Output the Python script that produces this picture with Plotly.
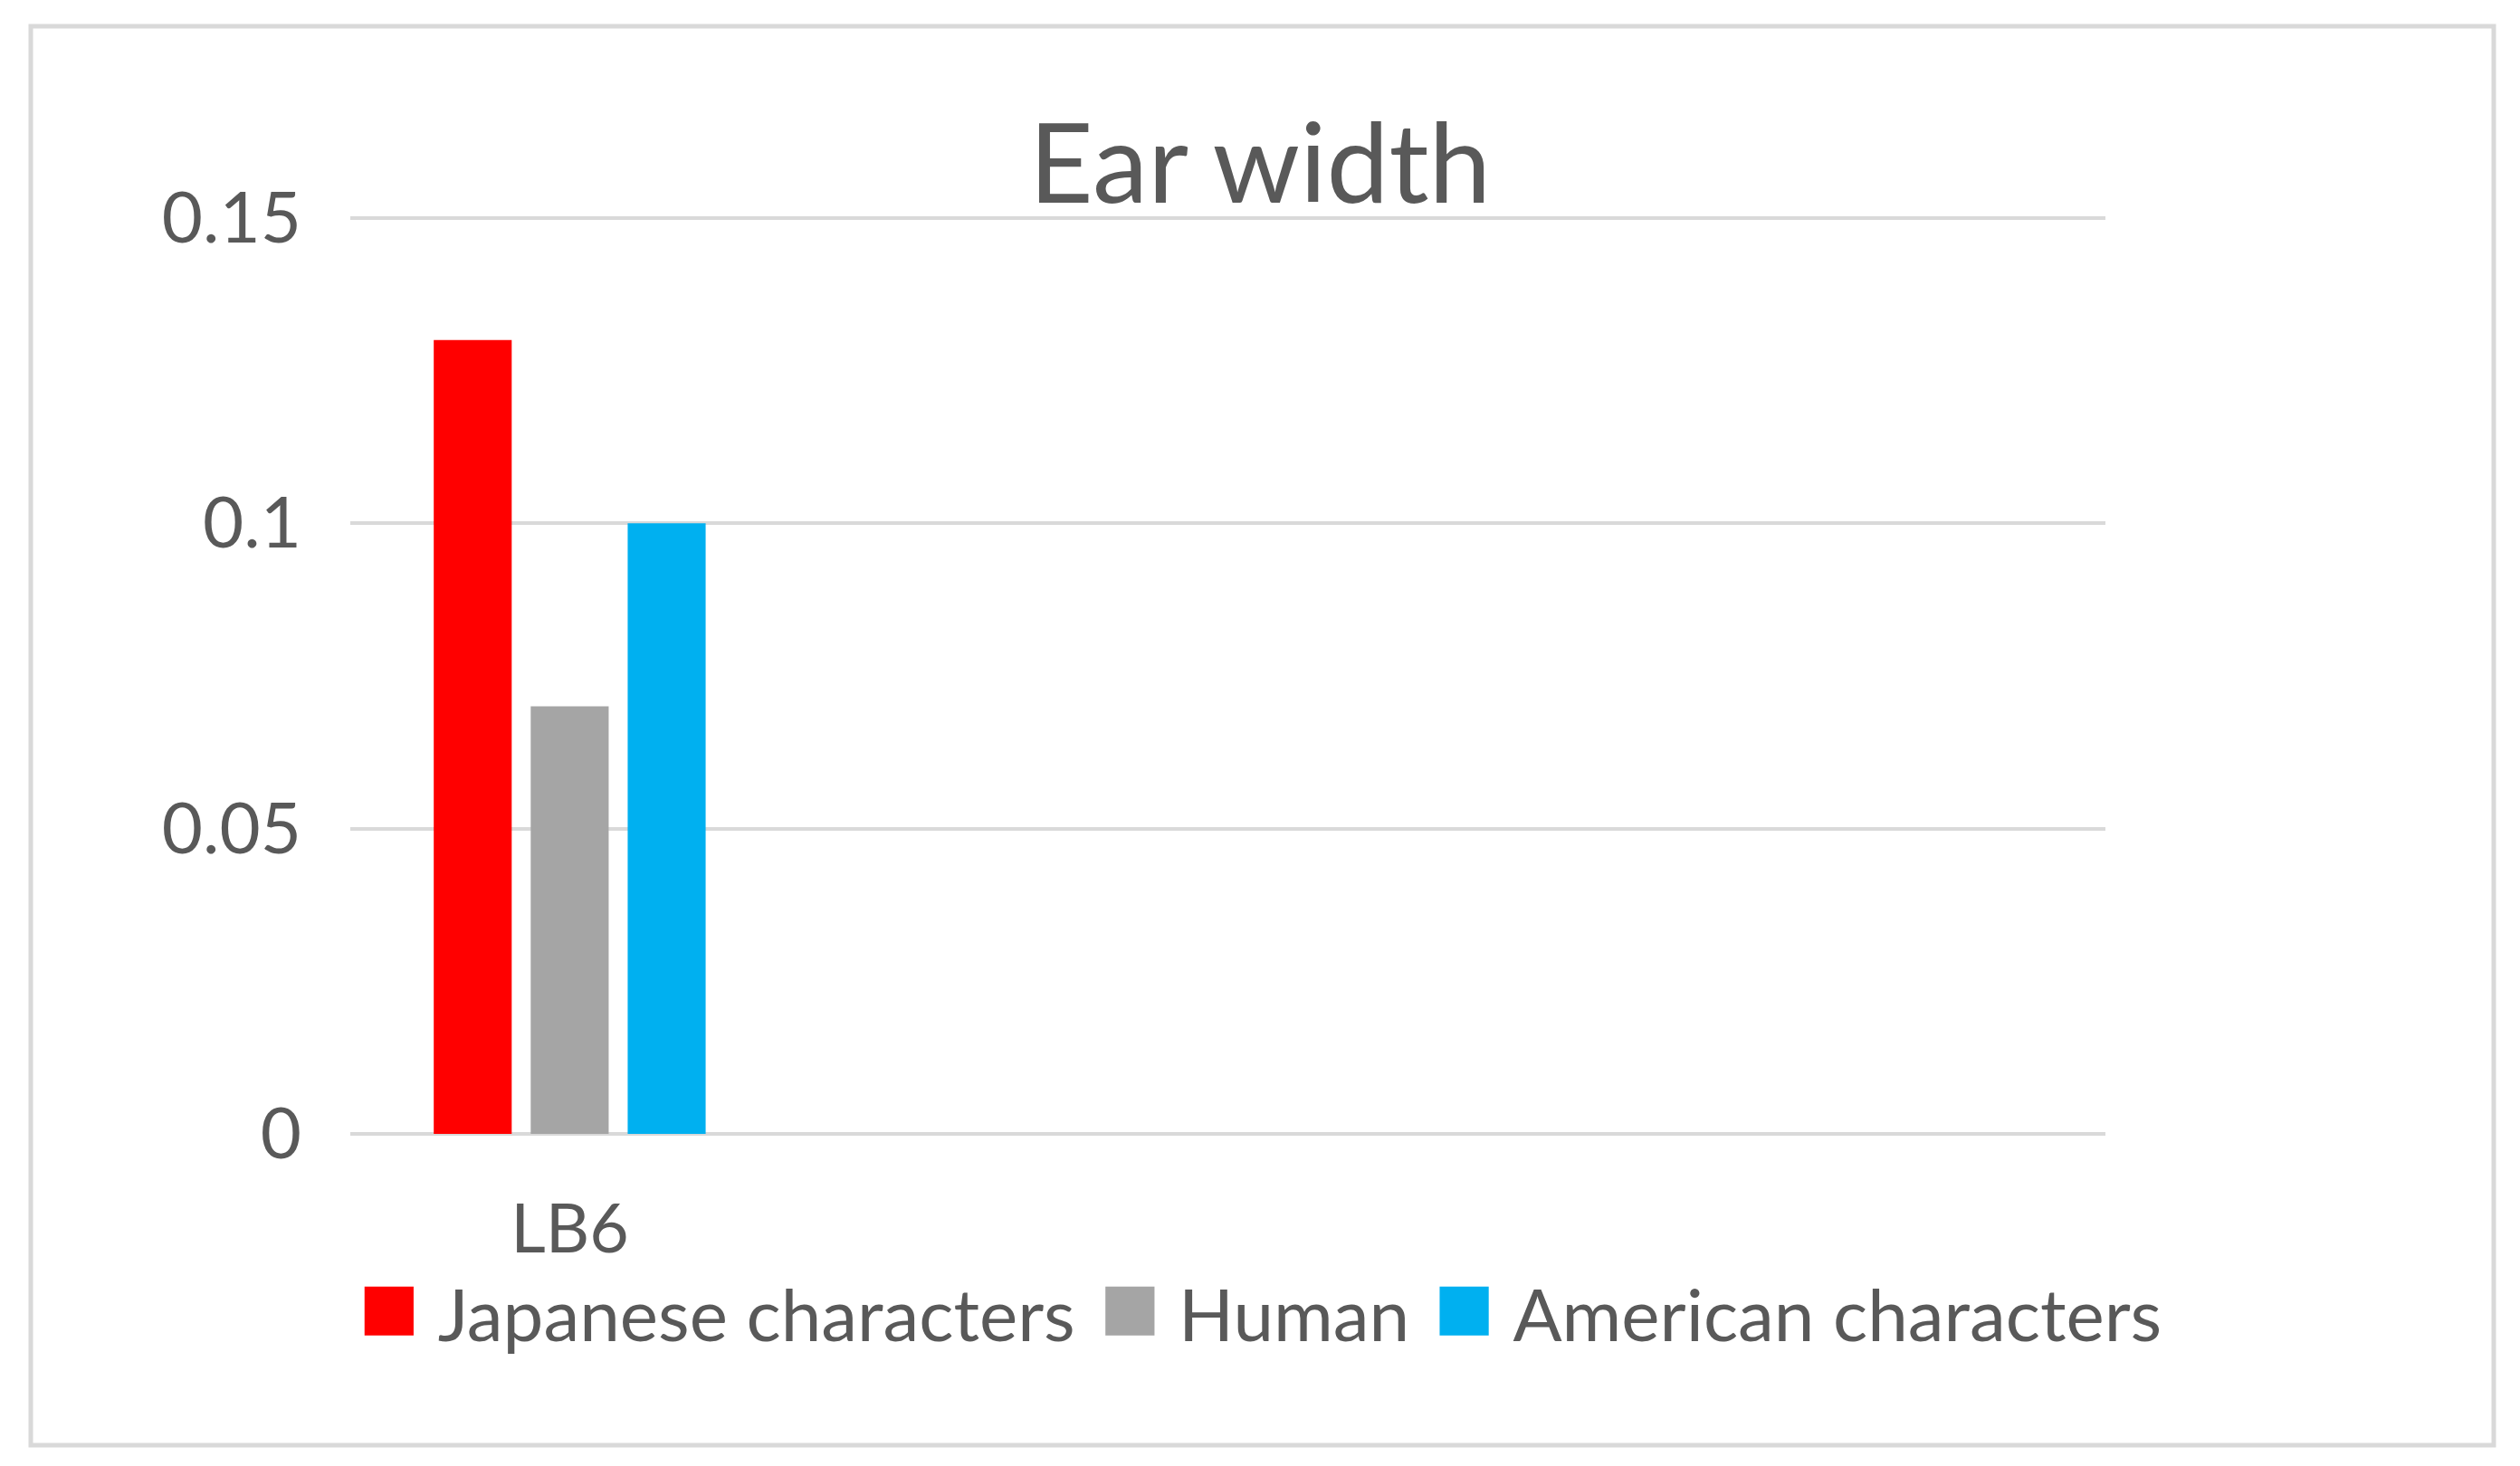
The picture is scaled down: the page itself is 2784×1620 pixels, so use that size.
import plotly.graph_objects as go

# ---- data ----
categories = ["LB6", " ", "  ", "   "]
series_names = ["Japanese characters", "Human", "American characters"]
series_values = [[0.13], [0.07], [0.10]]
series_colors = ["#FF0000", "#A5A5A5", "#00B0F0"]
y_ticks = [0, 0.05, 0.1, 0.15]
y_tick_labels = ["0", "0.05", "0.1", "0.15"]
title_text = "Ear width"

FONT = "Lato, 'Open Sans', sans-serif"
TXT = "#595959"
GRID = "#D9D9D9"

W, H = 2784, 1620
OFF = 8  # page body margin offset
Y_TOP = 0.1504
L = 387 - OFF
T = 241 - OFF - 3
R = W - (2326 - OFF)
B = H - (1253 - OFF)
pw = W - L - R
ph = H - T - B


def px_x(v):
    return (v - OFF - L) / pw


def px_y(v):
    return (H - B - (v - OFF)) / ph


fig = go.Figure()
for name, vals, col in zip(series_names, series_values, series_colors):
    fig.add_trace(go.Bar(x=categories[:len(vals)], y=vals, name=name,
                         marker=dict(color=col, line=dict(width=0))))

# legend built as one centered annotation (large swatches like the original)
parts = []
for name, col in zip(series_names, series_colors):
    parts.append(f"<span style='color:{col};font-size:112px'>■</span>\u2005{name}")
legend_text = "\u2004".join(parts)
fig.add_annotation(text=legend_text, xref="paper", yref="paper",
                   x=px_x(1392), y=px_y(1438),
                   xanchor="center", yanchor="middle", showarrow=False,
                   font=dict(family=FONT, size=80, color=TXT))

# outer chart border
fig.add_shape(type="rect", xref="paper", yref="paper",
              x0=px_x(34), x1=px_x(2755),
              y0=px_y(1597), y1=px_y(29),
              line=dict(color=GRID, width=5), fillcolor="rgba(0,0,0,0)", layer="below")

fig.update_layout(
    width=W, height=H,
    margin=dict(l=L, r=R, t=T, b=B, autoexpand=False),
    paper_bgcolor="white", plot_bgcolor="white",
    showlegend=False,
    barmode="group", bargap=0.337, bargroupgap=0.196,
    title=dict(text=title_text, x=(1392 - OFF) / W, xref="container", xanchor="center",
               y=1 - (184 - OFF - 3) / H, yref="container", yanchor="middle",
               font=dict(family=FONT, size=123, color=TXT)),
    font=dict(family=FONT, color=TXT),
    xaxis=dict(type="category", categoryorder="array", categoryarray=categories,
               range=[-0.5, len(categories) - 0.5],
               showgrid=False, showline=False, zeroline=False, ticks="",
               tickfont=dict(family=FONT, size=75, color=TXT),
               ticklabelstandoff=55, fixedrange=True),
    yaxis=dict(range=[0, Y_TOP], tickvals=y_ticks, ticktext=y_tick_labels,
               showgrid=True, gridcolor=GRID, gridwidth=4,
               zeroline=True, zerolinecolor=GRID, zerolinewidth=4,
               showline=False, ticks="",
               tickfont=dict(family=FONT, size=78, color=TXT),
               ticklabelstandoff=53, fixedrange=True),
)

fig.write_html("out.html")
